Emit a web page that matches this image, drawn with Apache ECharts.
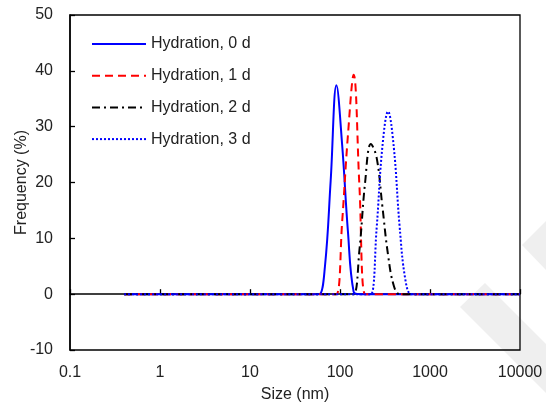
<!DOCTYPE html>
<html>
<head>
<meta charset="utf-8">
<script src="https://cdn.jsdelivr.net/npm/echarts@6/dist/echarts.min.js"></script>
<style>
html,body{margin:0;padding:0;background:#fff;}
#chart{width:546px;height:408px;}
</style>
</head>
<body>
<div id="chart"></div>
<script>
// Size bins (nm)
const sizeBins = [0.4, 50.75, 58.77, 68.06, 78.82, 91.28, 105.7, 122.4, 141.8, 164.2, 190.1, 220.2, 255.0, 295.3, 342.0, 396.1, 458.7, 531.2, 615.1, 712.4, 10000];
// Frequency (%) per bin
const day0 = [0, 0, 0, 5.0, 20.4, 37.4, 26.7, 11.3, 0.4, 0, 0, 0, 0, 0, 0, 0, 0, 0, 0, 0, 0];
const day1 = [0, 0, 0, 0, 0, 0, 13.0, 28.4, 39.3, 19.5, 0, 0, 0, 0, 0, 0, 0, 0, 0, 0, 0];
const day2 = [0, 0, 0, 0, 0, 0, 0, 0, 0, 7.8, 20.0, 26.9, 24.5, 15.8, 7.0, 1.5, 0, 0, 0, 0, 0];
const day3 = [0, 0, 0, 0, 0, 0, 0, 0, 0, 0, 0, 0, 11.7, 26.3, 32.7, 26.3, 12.3, 2.7, 0, 0, 0];
const seriesNames = ['Hydration, 0 d', 'Hydration, 1 d', 'Hydration, 2 d', 'Hydration, 3 d'];
const xTickLabels = ['0.1', '1', '10', '100', '1000', '10000'];

const pair = arr => sizeBins.map((s, i) => [s, arr[i]]);
const font = 'Liberation Sans, Arial, sans-serif';
const txt = '#222';

const chart = echarts.init(document.getElementById('chart'), null, {renderer: 'canvas'});
const styles = [
  {color: '#0000ff', type: 'solid', width: 2},
  {color: '#ff0000', type: [8, 5], width: 2},
  {color: '#000000', type: [8, 4, 2, 4], width: 2},
  {color: '#0000ff', type: [2, 2], width: 2}
];
const data = [day0, day1, day2, day3];

chart.setOption({
  animation: false,
  backgroundColor: '#fff',
  textStyle: {fontFamily: font},
  graphic: [
    {type: 'polygon', z: -10, shape: {points: [[460, 307], [485, 283], [546, 344], [546, 393]]}, style: {fill: '#efefef'}},
    {type: 'polygon', z: -10, shape: {points: [[522, 245], [546, 221], [546, 270]]}, style: {fill: '#efefef'}}
  ],
  grid: {left: 70, right: 26, top: 15, bottom: 58, outerBoundsMode: 'none', containLabel: false,
    show: true, borderColor: '#000', borderWidth: 1.3, backgroundColor: 'transparent'},
  legend: {
    orient: 'vertical', left: 91, top: 36, padding: 0,
    itemWidth: 54, itemHeight: 16, itemGap: 15.7,
    itemStyle: {opacity: 0},
    textStyle: {fontSize: 16, color: txt, fontFamily: font, lineHeight: 16},
    data: seriesNames
  },
  xAxis: {
    type: 'log', logBase: 10, min: 0.1, max: 10000,
    name: 'Size (nm)', nameLocation: 'middle', nameGap: 37, nameMoveOverlap: false,
    nameTextStyle: {fontSize: 16, color: txt, fontFamily: font},
    axisLine: {lineStyle: {color: '#000', width: 1.5}},
    axisTick: {inside: true, length: 5, lineStyle: {color: '#000', width: 1.3}},
    minorTick: {show: false},
    splitLine: {show: false},
    axisLabel: {fontSize: 16, color: txt, fontFamily: font, margin: 15,
      formatter: v => { const e = Math.round(Math.log10(v)); return xTickLabels[e + 1] !== undefined ? xTickLabels[e + 1] : ''; }}
  },
  yAxis: {
    type: 'value', min: -10, max: 50, interval: 10,
    name: 'Frequency (%)', nameLocation: 'middle', nameGap: 40, nameMoveOverlap: false,
    nameTextStyle: {fontSize: 16, color: txt, fontFamily: font},
    axisLine: {show: true, lineStyle: {color: '#000', width: 1.5}},
    axisTick: {show: true, inside: true, length: 5, lineStyle: {color: '#000', width: 1.3}},
    splitLine: {show: false},
    axisLabel: {fontSize: 16, color: txt, fontFamily: font, margin: 17}
  },
  series: seriesNames.map((n, k) => ({
    name: n, type: 'line', data: pair(data[k]),
    smooth: 0.4, symbol: 'none', showSymbol: false,
    lineStyle: styles[k], itemStyle: {color: styles[k].color},
    z: 3 + k
  }))
});
</script>
</body>
</html>
